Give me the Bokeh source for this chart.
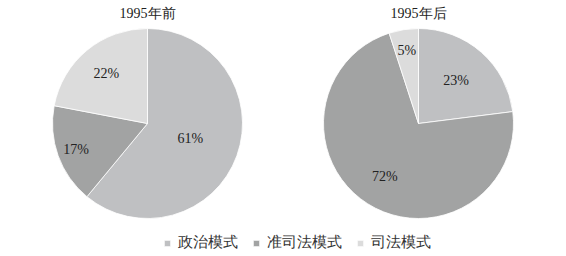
import math
from bokeh.plotting import figure
from bokeh.models import ColumnDataSource, Range1d, Legend, LegendItem
from bokeh.core.properties import value
from bokeh.embed import file_html
from bokeh.resources import INLINE

# ---- data ----
categories = ["政治模式", "准司法模式", "司法模式"]
before_1995 = [61, 17, 22]
after_1995 = [23, 72, 5]
titles = ["1995年前", "1995年后"]

# ---- style / layout ----
colors = ["#bfc0c2", "#a2a3a3", "#dcdcdc"]
centers = [(147, 133), (418, 133)]
radius = 95
label_r = [[0.48, 0.80, 0.68], [0.60, 0.66, 0.78]]

W, H = 566, 256
p = figure(width=W, height=H, output_backend="svg", toolbar_location=None,
           x_range=Range1d(0, W), y_range=Range1d(0, H),
           min_border=0, min_border_left=0, min_border_right=0,
           min_border_top=0, min_border_bottom=0)
p.axis.visible = False
p.grid.visible = False
p.outline_line_color = None
p.background_fill_color = "white"
p.border_fill_color = "white"

serif = value("Liberation Serif")
legend_renderers = []
for k, vals in enumerate([before_1995, after_1995]):
    cx, cy = centers[k]
    total = float(sum(vals))
    starts, ends, lx, ly, txt = [], [], [], [], []
    cum = 0.0
    for i, v in enumerate(vals):
        a0 = cum / total
        a1 = (cum + v) / total
        cum += v
        # clockwise from 12 o'clock
        starts.append(math.pi / 2 - 2 * math.pi * a1)
        ends.append(math.pi / 2 - 2 * math.pi * a0)
        mid = 2 * math.pi * (a0 + a1) / 2
        rr = radius * label_r[k][i]
        lx.append(cx + rr * math.sin(mid))
        ly.append(cy + rr * math.cos(mid))
        txt.append(f"{v}%")
    src = ColumnDataSource(dict(start=starts, end=ends, color=colors,
                                cat=categories, lx=lx, ly=ly, txt=txt))
    r = p.wedge(x=cx, y=cy, radius=radius, start_angle="start", end_angle="end",
                direction="anticlock", fill_color="color", line_color="white",
                line_width=0.8, source=src)
    if k == 0:
        legend_renderers = r
    p.text(x="lx", y="ly", text="txt", source=src, text_font=serif,
           text_font_size="14px", text_color="#222222",
           text_align="center", text_baseline="middle")
    p.text(x=[cx], y=[cy + radius + 15], text=[titles[k]], text_font=serif,
           text_font_size="14px", text_color="#222222",
           text_align="center", text_baseline="middle")

items = [LegendItem(label=categories[i], renderers=[legend_renderers], index=i)
         for i in range(3)]
legend = Legend(items=items, orientation="horizontal", location=(163, 4),
                glyph_width=8, glyph_height=8, label_standoff=7, spacing=14,
                padding=0, margin=0, border_line_color=None,
                background_fill_alpha=0,
                label_text_font="Liberation Serif",
                label_text_font_size="15px", label_text_color="#333333")
p.add_layout(legend, "center")

open("out.html", "w").write(file_html(p, INLINE))
